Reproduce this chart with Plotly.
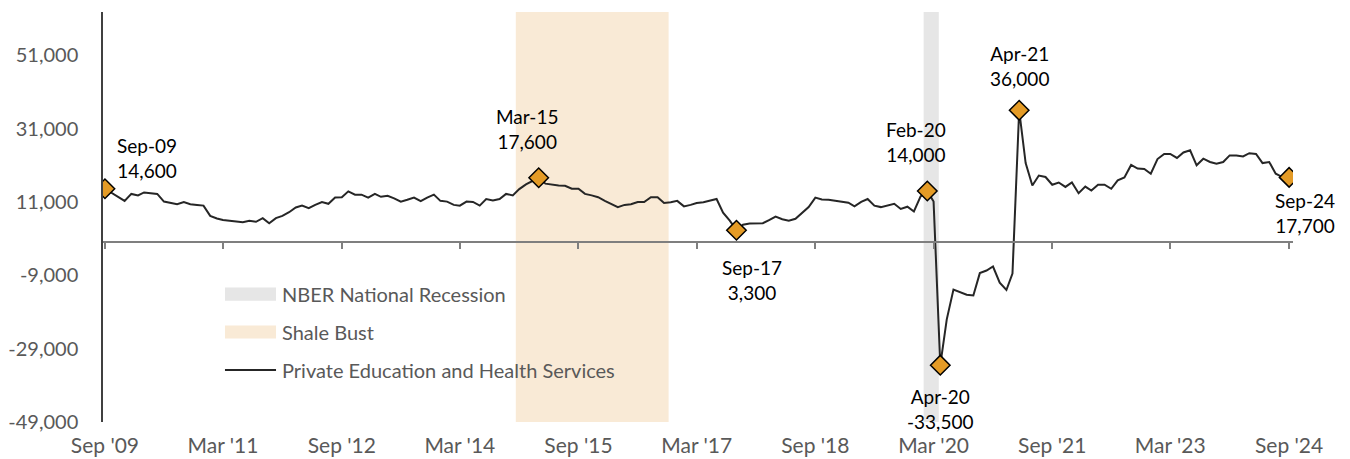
import plotly.graph_objects as go
import pandas as pd

# ---------------- data ----------------
start_month = "2009-09-01"
# Year-over-year change, Private Education and Health Services (thousands)
values_k = [
    14.6, 13.5, 12.4, 11.3, 13.2, 12.8, 13.6, 13.5, 13.2, 11.1,   # Sep09-Jun10
    10.7, 10.4, 11.0, 10.4, 10.2, 10.0, 7.2, 6.5, 6.1, 5.9,       # Jul10-Apr11
    5.8, 5.5, 5.9, 5.6, 6.6, 5.2, 6.6, 7.2, 8.2, 9.5,             # May11-Feb12
    10.0, 9.3, 10.2, 11.0, 10.5, 12.2, 12.3, 13.9, 13.0, 13.0,    # Mar12-Dec12
    12.2, 13.2, 12.4, 12.7, 12.0, 11.1, 11.6, 12.2, 11.2, 12.2,   # Jan13-Oct13
    13.0, 11.3, 11.1, 10.2, 10.0, 11.1, 11.0, 10.0, 11.8, 11.4,   # Nov13-Aug14
    11.8, 13.2, 12.8, 14.5, 15.8, 16.8, 17.6, 16.0, 15.7, 15.5,   # Sep14-Jun15
    15.4, 14.6, 14.6, 13.2, 12.8, 12.3, 11.3, 10.4, 9.6, 10.2,    # Jul15-Apr16
    10.4, 11.0, 11.0, 12.3, 12.3, 10.7, 10.9, 11.3, 9.8, 10.2,    # May16-Feb17
    10.7, 10.9, 11.3, 11.8, 8.1, 5.9, 3.3, 4.8, 5.1, 5.2,         # Mar17-Dec17
    5.2, 6.1, 7.0, 6.3, 5.9, 6.4, 8.0, 9.6, 12.2, 11.7,           # Jan18-Oct18
    11.6, 11.4, 11.2, 10.8, 9.8, 11.0, 11.8, 10.0, 9.6, 10.0,     # Nov18-Aug19
    10.5, 9.1, 9.7, 8.4, 12.5, 14.0, 11.1, -33.5, -21.0, -12.9,   # Sep19-Jun20
    -13.6, -14.3, -14.5, -8.4, -7.7, -6.6, -11.0, -13.0, -8.5, 36.0,  # Jul20-Apr21
    21.6, 15.5, 18.2, 17.8, 15.7, 16.3, 15.1, 16.3, 13.4, 15.2,   # May21-Feb22
    14.1, 15.7, 15.7, 14.6, 16.9, 17.7, 21.1, 20.1, 20.0, 18.7,   # Mar22-Dec22
    22.7, 24.1, 24.1, 23.0, 24.5, 25.1, 21.0, 22.8, 21.9, 21.4,   # Jan23-Oct23
    21.9, 23.7, 23.7, 23.4, 24.3, 24.1, 21.6, 21.9, 18.7, 17.8,   # Nov23-Aug24
    17.7,                                                         # Sep24
]
values = [round(v * 1000) for v in values_k]
dates = pd.date_range(start_month, periods=len(values), freq="MS")

series_name = "Private Education and Health Services"

highlight_labels = ["Sep-09", "Mar-15", "Sep-17", "Feb-20", "Apr-20", "Apr-21", "Sep-24"]
highlight_dates = ["2009-09-01", "2015-03-01", "2017-09-01", "2020-02-01",
                   "2020-04-01", "2021-04-01", "2024-09-01"]
highlight_values = [14600, 17600, 3300, 14000, -33500, 36000, 17700]

band_names = ["NBER National Recession", "Shale Bust"]
band_starts = ["2020-01-15", "2014-11-15"]
band_ends = ["2020-03-25", "2016-10-22"]

x_tick_dates = ["2009-09-01", "2011-03-01", "2012-09-01", "2014-03-01", "2015-09-01",
                "2017-03-01", "2018-09-01", "2020-03-01", "2021-09-01", "2023-03-01",
                "2024-09-01"]
x_tick_text = ["Sep '09", "Mar '11", "Sep '12", "Mar '14", "Sep '15", "Mar '17",
               "Sep '18", "Mar '20", "Sep '21", "Mar '23", "Sep '24"]
y_tick_vals = [-49000, -29000, -9000, 11000, 31000, 51000]
y_tick_text = [f"{v:,}" for v in y_tick_vals]

x_range = ["2009-08-23", "2024-09-19"]
y_range = [-49000, 62800]

# ---------------- styles ----------------
FONT = "Lato"
TICK_GREY = "#595959"
LINE_COL = "#262626"
MARKER_COL = "#E49B26"
BAND_COLS = ["#E6E6E6", "#F9EAD6"]
AXIS_GREY = "#7F7F7F"

# the page body adds an 8px margin around the figure; size the figure to compensate
PAGE_OFFSET = 8
FIG_W, FIG_H = 1350 - PAGE_OFFSET, 459 - PAGE_OFFSET

# annotation offsets in px (dx, dy) relative to the marker
label_offsets = [(42, 31), (-12, 49), (16, -50), (-11, 49), (0, -44), (0, 44), (16, -36)]

fig = go.Figure()

fig.add_trace(go.Scatter(
    x=dates, y=values, mode="lines", name=series_name,
    line=dict(color=LINE_COL, width=2), showlegend=False,
))
fig.add_trace(go.Scatter(
    x=pd.to_datetime(highlight_dates), y=highlight_values, mode="markers",
    marker=dict(symbol="diamond", size=15, color=MARKER_COL,
                line=dict(color="#000000", width=1.5)),
    showlegend=False, hoverinfo="skip",
))
# dummy trace to materialise the zero-line axis
fig.add_trace(go.Scatter(x=[dates[0]], y=[None], xaxis="x2", mode="lines",
                         showlegend=False, hoverinfo="skip"))

# shaded bands
for s, e, c in zip(band_starts, band_ends, BAND_COLS):
    fig.add_shape(type="rect", xref="x", yref="paper", x0=s, x1=e, y0=0, y1=1,
                  fillcolor=c, line=dict(width=0), layer="below")

# marker labels
for lab, d, v, (dx, dy) in zip(highlight_labels, highlight_dates, highlight_values, label_offsets):
    fig.add_annotation(x=d, y=v, text=f"{lab}<br>{v:,}", showarrow=False,
                       xshift=dx, yshift=dy, xanchor="center", yanchor="middle",
                       font=dict(family=FONT, size=19, color="#000000"))

# custom legend (swatches + labels in paper coords)
leg_x0, leg_x1, leg_tx = 0.1025, 0.1454, 0.1487
leg_rows = [0.312, 0.2195, 0.1268]
leg_h = 0.016
legend_items = [(band_names[0], "box", BAND_COLS[0]),
                (band_names[1], "box", BAND_COLS[1]),
                (series_name, "line", LINE_COL)]
for (name, kind, col), yy in zip(legend_items, leg_rows):
    if kind == "box":
        fig.add_shape(type="rect", xref="paper", yref="paper", x0=leg_x0, x1=leg_x1,
                      y0=yy - leg_h, y1=yy + leg_h, fillcolor=col, line=dict(width=0))
    else:
        fig.add_shape(type="line", xref="paper", yref="paper", x0=leg_x0, x1=leg_x1,
                      y0=yy, y1=yy, line=dict(color=col, width=2))
    fig.add_annotation(xref="paper", yref="paper", x=leg_tx, y=yy, text=name,
                       showarrow=False, xanchor="left", yanchor="middle",
                       font=dict(family=FONT, size=20, color=TICK_GREY))

zero_frac = (0 - y_range[0]) / (y_range[1] - y_range[0])

fig.update_layout(
    width=FIG_W, height=FIG_H,
    margin=dict(l=103 - PAGE_OFFSET, r=57, t=12 - PAGE_OFFSET, b=37, autoexpand=False),
    plot_bgcolor="white", paper_bgcolor="white",
    font=dict(family=FONT, size=21, color=TICK_GREY),
    showlegend=False,
    xaxis=dict(type="date", range=x_range, tickvals=x_tick_dates, ticktext=x_tick_text,
               showgrid=False, zeroline=False, showline=False, ticks="", automargin=False,
               ticklabelstandoff=9, tickfont=dict(family=FONT, size=21, color=TICK_GREY)),
    xaxis2=dict(type="date", range=x_range, tickvals=x_tick_dates, overlaying="x",
                anchor="free", position=zero_frac, side="bottom", automargin=False,
                showgrid=False, zeroline=False, showline=True, linecolor=AXIS_GREY,
                linewidth=2, ticks="outside", ticklen=6, tickwidth=1.5, tickcolor=AXIS_GREY,
                showticklabels=False),
    yaxis=dict(range=y_range, tickvals=y_tick_vals, ticktext=y_tick_text, automargin=False,
               showgrid=False, zeroline=False, showline=True, linecolor="#404040",
               linewidth=1.5, ticks="", ticklabelstandoff=19,
               tickfont=dict(family=FONT, size=20, color=TICK_GREY)),
)

fig.write_html("out.html")
